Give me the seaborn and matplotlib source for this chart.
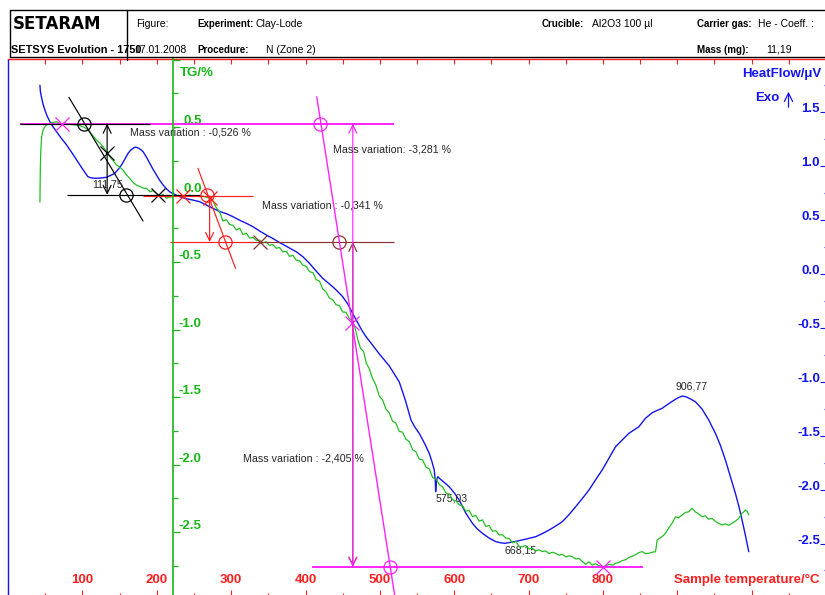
import numpy as np
import matplotlib
matplotlib.use("Agg")
import matplotlib.pyplot as plt
import seaborn as sns
from matplotlib import font_manager
from matplotlib.lines import Line2D

sns.set_style("white")
plt.rcParams["font.family"] = ["Liberation Sans", "DejaVu Sans"]
plt.rcParams["axes.unicode_minus"] = False

installed = {f.name for f in font_manager.fontManager.ttflist}
HAS_NARROW = "Liberation Sans Narrow" in installed
NARROW = "Liberation Sans Narrow" if HAS_NARROW else "Liberation Sans"

# ---------------------------------------------------------------- data
# heat flow signal (sample temperature in degC, heat flow in uV)
hf_temp = [42.8, 43.5, 45.1, 47.0, 49.5, 52.5, 56.2, 60.5, 65.2, 71.5, 78.7, 85.5,
           92.1, 97.0, 101.0, 104.0, 107.3, 111.5, 116.7, 124.0, 132.4, 138.0,
           143.5, 148.0, 152.5, 157.0, 161.4, 165.0, 168.1, 170.5, 172.6, 176.0,
           179.0, 181.5, 186.0, 190.5, 195.0, 199.5, 204.0, 208.4, 213.0, 217.3,
           224.0, 230.8, 240.0, 249.0, 257.6, 266.5, 275.5, 284.5, 293.5, 302.3,
           311.0, 320.0, 329.2, 338.0, 347.2, 356.0, 365.0, 376.0, 387.4, 396.5,
           405.3, 414.0, 423.1, 430.0, 436.6, 443.0, 450.0, 457.0, 463.4, 470.0,
           476.0, 481.4, 488.0, 499.3, 512.7, 526.1, 534.2, 541.8, 547.0, 552.9,
           560.0, 566.4, 570.0, 573.1, 574.5, 575.03, 576.0, 578.0, 580.0, 586.0,
           593.2, 600.0, 606.6, 615.7, 624.5, 631.0, 637.9, 647.0, 656.0, 662.0,
           668.15, 677.0, 687.2, 698.0, 709.6, 718.0, 727.5, 736.0, 745.3, 754.0,
           763.3, 772.0, 781.2, 790.0, 799.0, 808.0, 817.0, 826.0, 834.9, 841.0,
           848.3, 857.0, 866.2, 873.0, 879.6, 889.0, 897.6, 902.0, 906.77, 912.0,
           918.0, 924.4, 933.0, 942.3, 947.0, 951.3, 958.0, 964.7, 971.0, 978.1,
           983.0, 987.1, 991.5, 996.1]
hf_value = [1.750, 1.690, 1.633, 1.575, 1.521, 1.465, 1.413, 1.365, 1.320, 1.260, 1.197, 1.128,
            1.058, 1.005, 0.965, 0.935, 0.903, 0.892, 0.888, 0.890, 0.897, 0.915,
            0.934, 0.970, 1.011, 1.065, 1.120, 1.150, 1.166, 1.176, 1.175, 1.165,
            1.150, 1.135, 1.085, 1.027, 0.970, 0.918, 0.868, 0.826, 0.790, 0.763,
            0.738, 0.717, 0.698, 0.685, 0.671, 0.640, 0.609, 0.580, 0.560, 0.532,
            0.500, 0.472, 0.439, 0.400, 0.362, 0.330, 0.292, 0.250, 0.207, 0.160,
            0.099, 0.030, -0.040, -0.080, -0.118, -0.160, -0.211, -0.280, -0.365, -0.450,
            -0.525, -0.582, -0.640, -0.742, -0.853, -1.002, -1.169, -1.354, -1.420, -1.478,
            -1.570, -1.663, -1.740, -1.818, -1.910, -2.019, -1.915, -1.880, -1.895, -1.930,
            -1.973, -2.030, -2.096, -2.220, -2.313, -2.365, -2.405, -2.450, -2.483, -2.493,
            -2.498, -2.488, -2.474, -2.456, -2.437, -2.410, -2.375, -2.340, -2.298, -2.235,
            -2.159, -2.085, -2.004, -1.910, -1.818, -1.710, -1.602, -1.540, -1.478, -1.450,
            -1.417, -1.340, -1.287, -1.265, -1.246, -1.200, -1.162, -1.145, -1.132, -1.140,
            -1.160, -1.185, -1.250, -1.354, -1.420, -1.478, -1.590, -1.725, -1.870, -2.034,
            -2.160, -2.282, -2.420, -2.576]

# thermogravimetric signal (sample temperature in degC, mass change in %)
tg_temp = [42.8, 43.0, 43.3, 43.8, 45.1, 47.0, 49.5, 52.5, 56.2, 60.5, 65.2, 68.5,
           72.0, 75.5, 78.7, 85.0, 92.1, 96.5, 101.0, 105.5, 109.9, 114.5, 118.9,
           123.5, 127.8, 132.4, 136.8, 141.5, 145.8, 150.0, 154.7, 159.0, 163.6,
           168.0, 172.6, 177.0, 181.5, 186.1, 191.0, 195.0, 199.5, 204.0, 208.5,
           212.9, 217.0, 221.8, 226.0, 230.5, 235.2, 239.8, 244.5, 249.0, 253.5,
           257.6, 262.0, 266.5, 271.0, 275.5, 280.0, 284.5, 288.9, 293.5, 297.9,
           302.5, 306.9, 311.5, 316.0, 320.5, 324.7, 329.5, 334.0, 338.2, 342.6,
           347.0, 351.5, 356.0, 360.6, 365.0, 369.5, 374.0, 378.4, 383.0, 387.5,
           392.0, 396.3, 401.0, 405.5, 410.0, 414.3, 418.8, 423.2, 427.7, 432.0,
           436.6, 441.0, 445.6, 450.0, 454.5, 459.0, 463.4, 466.5, 470.1, 474.0,
           478.0, 481.8, 485.8, 490.0, 494.5, 499.3, 503.8, 508.2, 512.7, 517.1,
           521.5, 526.0, 530.5, 535.0, 539.5, 544.0, 548.5, 553.0, 557.5, 562.0,
           566.4, 571.0, 575.4, 580.0, 584.5, 588.8, 593.5, 598.0, 602.5, 606.8,
           611.1, 615.5, 620.0, 624.5, 629.1, 633.5, 638.0, 642.5, 646.9, 651.5,
           656.0, 660.5, 665.0, 669.3, 674.0, 678.5, 683.0, 687.5, 691.6, 696.0,
           700.5, 705.0, 709.5, 714.1, 718.5, 723.0, 727.5, 732.0, 736.5, 741.0,
           745.5, 750.0, 754.5, 758.8, 763.5, 768.0, 772.5, 777.0, 781.2, 785.5,
           790.0, 794.5, 800.0, 804.5, 808.5, 813.0, 817.0, 821.5, 826.0, 830.5,
           834.9, 839.5, 844.0, 848.3, 852.5, 857.0, 861.7, 866.0, 870.7, 872.0,
           872.9, 876.5, 880.5, 884.1, 888.5, 893.0, 897.6, 902.0, 906.4, 911.0,
           915.5, 919.8, 924.0, 928.5, 933.3, 937.5, 942.0, 946.7, 951.0, 955.5,
           960.1, 964.5, 969.0, 973.5, 978.0, 982.5, 987.0, 989.5, 991.5, 994.0,
           996.1]
tg_value = [-0.056, 0.060, 0.181, 0.307, 0.428, 0.478, 0.502, 0.520, 0.527, 0.535, 0.539, 0.530,
            0.522, 0.531, 0.527, 0.519, 0.515, 0.510, 0.502, 0.488, 0.465, 0.432, 0.404,
            0.381, 0.354, 0.318, 0.280, 0.250, 0.219, 0.205, 0.181, 0.146, 0.120,
            0.090, 0.070, 0.060, 0.048, 0.046, 0.020, 0.030, 0.009, -0.012, 0.000,
            -0.028, -0.018, -0.016, -0.006, -0.014, -0.010, -0.011, -0.004, -0.012, -0.010,
            -0.016, -0.010, -0.020, -0.028, -0.048, -0.098, -0.128, -0.196, -0.186, -0.222,
            -0.228, -0.262, -0.250, -0.296, -0.286, -0.322, -0.318, -0.340, -0.338, -0.358,
            -0.350, -0.376, -0.370, -0.398, -0.392, -0.424, -0.420, -0.458, -0.450, -0.486,
            -0.490, -0.522, -0.532, -0.572, -0.578, -0.630, -0.642, -0.700, -0.722, -0.766,
            -0.780, -0.816, -0.822, -0.870, -0.872, -0.920, -0.940, -0.985, -1.070, -1.140,
            -1.162, -1.250, -1.290, -1.362, -1.410, -1.494, -1.522, -1.590, -1.618, -1.680,
            -1.692, -1.755, -1.760, -1.812, -1.830, -1.890, -1.906, -1.960, -1.966, -2.020,
            -2.032, -2.098, -2.105, -2.150, -2.166, -2.210, -2.220, -2.262, -2.270, -2.300,
            -2.305, -2.345, -2.340, -2.385, -2.378, -2.420, -2.410, -2.458, -2.452, -2.494,
            -2.490, -2.522, -2.520, -2.545, -2.548, -2.580, -2.570, -2.610, -2.609, -2.600,
            -2.625, -2.620, -2.640, -2.633, -2.645, -2.640, -2.660, -2.650, -2.658, -2.672,
            -2.665, -2.685, -2.676, -2.683, -2.700, -2.695, -2.720, -2.740, -2.720, -2.745,
            -2.735, -2.750, -2.7565, -2.748, -2.740, -2.745, -2.732, -2.725, -2.712, -2.705,
            -2.689, -2.680, -2.668, -2.653, -2.645, -2.660, -2.658, -2.650, -2.646, -2.600,
            -2.559, -2.545, -2.530, -2.510, -2.470, -2.435, -2.387, -2.395, -2.374, -2.355,
            -2.350, -2.324, -2.350, -2.365, -2.387, -2.380, -2.405, -2.399, -2.420, -2.435,
            -2.448, -2.440, -2.450, -2.436, -2.420, -2.400, -2.361, -2.350, -2.337, -2.345,
            -2.374]

# labelled heat flow peaks (degC)
peak_temps = [575.03, 668.15, 906.77]

# step levels of the TG evaluation (%)
lvl_start = 0.5245      # plateau before first step
lvl_first = -0.0015     # after first step
lvl_second_top = -0.0105
lvl_second = -0.3515    # after second step
lvl_final = -2.7565     # end of main loss

x_major = list(range(0, 1101, 100))
x_labels = ["" if (t == 0 or t > 800) else str(t) for t in x_major]
hf_ticks = [-2.5, -2.0, -1.5, -1.0, -0.5, 0.0, 0.5, 1.0, 1.5]
tg_ticks = [-2.5, -2.0, -1.5, -1.0, -0.5, 0.0, 0.5, 1.0]

# ---------------------------------------------------------------- style
BLUE = "#1414f0"
GREEN = "#22c022"
GREEN_AX = "#18b818"
RED = "#ff1f1f"
MAGENTA = "#ff22ff"
BROWN = "#8e3030"
TXT = "#262626"

W, H = 825, 595
fig = plt.figure(figsize=(W / 100, H / 100), dpi=100)


def fx(px):
    return px / W


def fy(py):
    return 1 - py / H


# plot frame in pixels and scale factors
AX_L, AX_R, AX_T, AX_B = 8.1, 826.0, 59.5, 596.0
PX_PER_C = 0.7449
HF_ZERO, HF_PX = 274.0, 107.8
TG_ZERO, TG_PX = 194.5, 135.0

ax = fig.add_axes([fx(AX_L), fy(AX_B), (AX_R - AX_L) / W, (AX_B - AX_T) / H])
ax_tg = ax.twinx()

ax.set_xlim(0, (AX_R - AX_L) / PX_PER_C)
ax.set_ylim((HF_ZERO - AX_B) / HF_PX, (HF_ZERO - AX_T) / HF_PX)
ax_tg.set_ylim((TG_ZERO - AX_B) / TG_PX, (TG_ZERO - AX_T) / TG_PX + 0.0005)

# heat flow axis (right, ticks pointing inward, labels inside)
ax.yaxis.set_ticks_position("right")
ax.set_yticks(hf_ticks)
ax.set_yticklabels([f"{v:.1f}" for v in hf_ticks])
ax.set_yticks(np.arange(-2.75, 1.9, 0.5), minor=True)
ax.tick_params(axis="y", which="both", direction="in", color=BLUE, width=0.8,
               left=False, right=True, labelleft=False, labelright=True)
ax.tick_params(axis="y", which="major", length=4.3, pad=-4.3,
               labelcolor=BLUE, labelsize=9.5)
ax.tick_params(axis="y", which="minor", length=1.8)
for tick in ax.yaxis.get_major_ticks():
    tick.label2.set_ha("right")
    tick.label2.set_va("baseline")
    tick.label2.set_fontweight("bold")

# temperature axis (bottom, labels inside)
ax.set_xticks(x_major)
ax.set_xticklabels(x_labels)
ax.set_xticks(np.arange(50, 1100, 100), minor=True)
ax.tick_params(axis="x", which="both", direction="in", color=RED, width=0.8,
               bottom=True, top=False)
ax.tick_params(axis="x", which="major", length=4.5, pad=-11.5,
               labelcolor=RED, labelsize=9.5)
ax.tick_params(axis="x", which="minor", length=2.2)
for tick in ax.xaxis.get_major_ticks():
    tick.label1.set_va("center")
    tick.label1.set_fontweight("bold")

ax.spines["left"].set_color(BLUE)
ax.spines["right"].set_color(BLUE)
ax.spines["bottom"].set_color(RED)
ax.spines["top"].set_visible(False)
for s in ax.spines.values():
    s.set_linewidth(1.0)

top = ax.secondary_xaxis("top")
top.set_xticks(np.arange(50, 1100, 50))
top.tick_params(axis="x", direction="in", length=3.4, width=0.8, color=RED,
                top=True, labeltop=False)
top.spines["top"].set_color(RED)
top.spines["top"].set_linewidth(1.0)

# TG axis, its spine placed inside the plot
T_TG_AXIS = (173.0 - AX_L) / PX_PER_C
ax_tg.spines["left"].set_position(("data", T_TG_AXIS))
ax_tg.spines["left"].set_color(GREEN_AX)
ax_tg.spines["left"].set_linewidth(1.2)
for side in ("right", "top", "bottom"):
    ax_tg.spines[side].set_visible(False)
ax_tg.yaxis.set_ticks_position("left")
ax_tg.set_yticks(tg_ticks)
ax_tg.set_yticklabels(["" if v > 0.9 else f"{v:.1f}" for v in tg_ticks])
ax_tg.set_yticks(np.arange(-2.75, 1.0, 0.5), minor=True)
ax_tg.tick_params(axis="y", which="both", direction="in", color=GREEN_AX, width=0.9,
                  left=True, right=False, labelleft=True, labelright=False)
ax_tg.tick_params(axis="y", which="major", length=5.0, pad=-20.9,
                  labelcolor=GREEN_AX, labelsize=9.5)
ax_tg.tick_params(axis="y", which="minor", length=3.6)
for tick in ax_tg.yaxis.get_major_ticks():
    tick.label1.set_ha("right")
    tick.label1.set_va("bottom")
    tick.label1.set_fontweight("bold")

# ---------------------------------------------------------------- curves
sns.lineplot(x=hf_temp, y=hf_value, ax=ax, color=BLUE, linewidth=1.0,
             estimator=None, sort=False)
sns.lineplot(x=tg_temp, y=tg_value, ax=ax_tg, color=GREEN, linewidth=0.9,
             estimator=None, sort=False)

for t in peak_temps:
    v = hf_value[hf_temp.index(t)]
    txt = f"{t:.2f}".replace(".", ",")
    if t > 800:
        ax.text(t + 12, v + 0.09, txt, ha="center", va="center", fontsize=7.6, color=TXT)
    else:
        ax.text(t, v - 0.065, txt, ha="left", va="center", fontsize=7.6, color=TXT)

# ---------------------------------------------------------------- TG evaluation marks
LW = 0.85


def hline(y, t0, t1, color, lw=LW):
    ax_tg.plot([t0, t1], [y, y], color=color, lw=lw, solid_capstyle="butt")


def mark(t, y, color, kind):
    if kind == "x":
        ax_tg.plot([t], [y], marker="x", ms=9.5, mew=0.9, color=color, ls="none")
    else:
        ax_tg.plot([t], [y], marker="o", ms=9.5, mew=0.9, mfc="none", mec=color, ls="none")


def arrow(t, y0, y1, color, style):
    ax_tg.annotate("", xy=(t, y1), xytext=(t, y0),
                   arrowprops=dict(arrowstyle=f"{style},head_length=0.45,head_width=0.22",
                                   color=color, lw=LW, shrinkA=0, shrinkB=0,
                                   mutation_scale=13))


def mv_text(t, y, diff, colon=" : "):
    s = f"Mass variation{colon}{diff:.3f} %".replace(".", ",")
    ax_tg.text(t, y, s, ha="left", va="center", fontsize=7.7, color=TXT)


# long horizontal levels
hline(lvl_start, 16.0, 519.0, MAGENTA, lw=1.4)
hline(lvl_final, 409.0, 854.5, MAGENTA, lw=1.4)
hline(lvl_second, 325.0, 519.0, BROWN)
hline(lvl_second, 217.5, 329.0, RED)

# first step (black)
hline(lvl_start, 16.0, 190.5, "black")
hline(lvl_first, 78.7, 257.6, "black")
ax_tg.plot([81.8, 181.5], [0.720, -0.196], color="black", lw=LW)
mark(132.4, 0.305, "black", "x")
mark(201.6, lvl_first, "black", "x")
mark(101.9, lvl_start, "black", "o")
mark(158.3, lvl_first, "black", "o")
mark(72.0, lvl_start, MAGENTA, "x")
arrow(133.2, lvl_first, lvl_start, "black", "<->")
ax_tg.text(113.0, 0.078, "111,75", ha="left", va="center", fontsize=7.7, color=TXT)
mv_text(163.8, 0.458, lvl_first - lvl_start)

# second step (red)
hline(lvl_second_top, 181.0, 328.8, RED)
ax_tg.plot([255.3, 305.9], [0.194, -0.547], color=RED, lw=LW)
mark(235.2, lvl_second_top, RED, "x")
mark(271.0, -0.028, RED, "x")
mark(267.4, 0.0, RED, "o")
mark(291.2, lvl_second, RED, "o")
arrow(271.0, lvl_second_top, lvl_second, RED, "->")
mv_text(340.9, -0.078, lvl_second - lvl_second_top)

# main loss (brown / magenta)
mark(338.2, lvl_second, BROWN, "x")
mark(445.6, lvl_second, BROWN, "o")
arrow(463.6, lvl_final, lvl_second, BROWN, "<->")
ax_tg.plot([415.1, 520.9], [0.724, -3.004], color=MAGENTA, lw=1.0)
arrow(463.6, lvl_final, lvl_start, MAGENTA, "<->")
mark(420.1, lvl_start, MAGENTA, "o")
mark(463.0, -0.952, MAGENTA, "x")
mark(514.0, lvl_final, MAGENTA, "o")
mark(800.0, lvl_final, MAGENTA, "x")
mv_text(436.6, 0.335, lvl_final - lvl_start, colon=": ")
mv_text(315.8, -1.954, lvl_final - lvl_second)

# ---------------------------------------------------------------- axis titles
fig.text(fx(180), fy(73), "TG/%", ha="left", va="center", fontsize=9.5,
         fontweight="bold", color=GREEN_AX)
fig.text(fx(821), fy(74), "HeatFlow/μV", ha="right", va="center", fontsize=9.5,
         fontweight="bold", color=BLUE)
fig.text(fx(755), fy(98), "Exo", ha="left", va="center", fontsize=9.5,
         fontweight="bold", color=BLUE)
ax.annotate("", xy=(788.5, H - 89), xytext=(788.5, H - 110), xycoords="figure pixels",
            arrowprops=dict(arrowstyle="->,head_length=0.5,head_width=0.25",
                            color=BLUE, lw=0.9, mutation_scale=12))
fig.text(fx(820), fy(580), "Sample temperature/°C", ha="right", va="center",
         fontsize=9.5, fontweight="bold", color=RED)

# ---------------------------------------------------------------- header block
for xs, ys in [((9.5, 825), (9.5, 9.5)), ((9.5, 825), (57, 57)),
               ((9.5, 9.5), (9.5, 57)), ((127, 127), (9.5, 60))]:
    fig.add_artist(Line2D([fx(v) for v in xs], [fy(v) for v in ys],
                          color="black", lw=1.0))

fig.text(fx(13), fy(24), "SETARAM", ha="left", va="center", fontsize=12,
         fontweight="bold", family="DejaVu Sans", color="black")
if HAS_NARROW:
    bold_sz, reg_sz, sys_sz = 8.3, 8.5, 9.4
else:
    bold_sz, reg_sz, sys_sz = 7.0, 7.5, 7.95
hdr = [
    (136, 24, "Figure:", "normal"),
    (197, 24, "Experiment:", "bold"), (255, 24, "Clay-Lode", "normal"),
    (542, 24, "Crucible:", "bold"), (592, 24, "Al2O3 100 µl", "normal"),
    (697, 24, "Carrier gas:", "bold"), (758, 24, "He - Coeff. :", "normal"),
    (134, 50, "17.01.2008", "normal"),
    (197, 50, "Procedure:", "bold"), (266, 50, "N (Zone 2)", "normal"),
    (697, 50, "Mass (mg):", "bold"), (766, 50, "11,19", "normal"),
]
for x, y, s, w in hdr:
    fig.text(fx(x), fy(y), s, ha="left", va="center",
             fontsize=bold_sz if w == "bold" else reg_sz,
             fontweight=w, family=[NARROW, "DejaVu Sans"], color="black")
fig.text(fx(11), fy(50), "SETSYS Evolution - 1750", ha="left", va="center",
         fontsize=sys_sz, fontweight="bold", family=[NARROW, "DejaVu Sans"],
         color="black")

fig.savefig("out.png", dpi=100)
